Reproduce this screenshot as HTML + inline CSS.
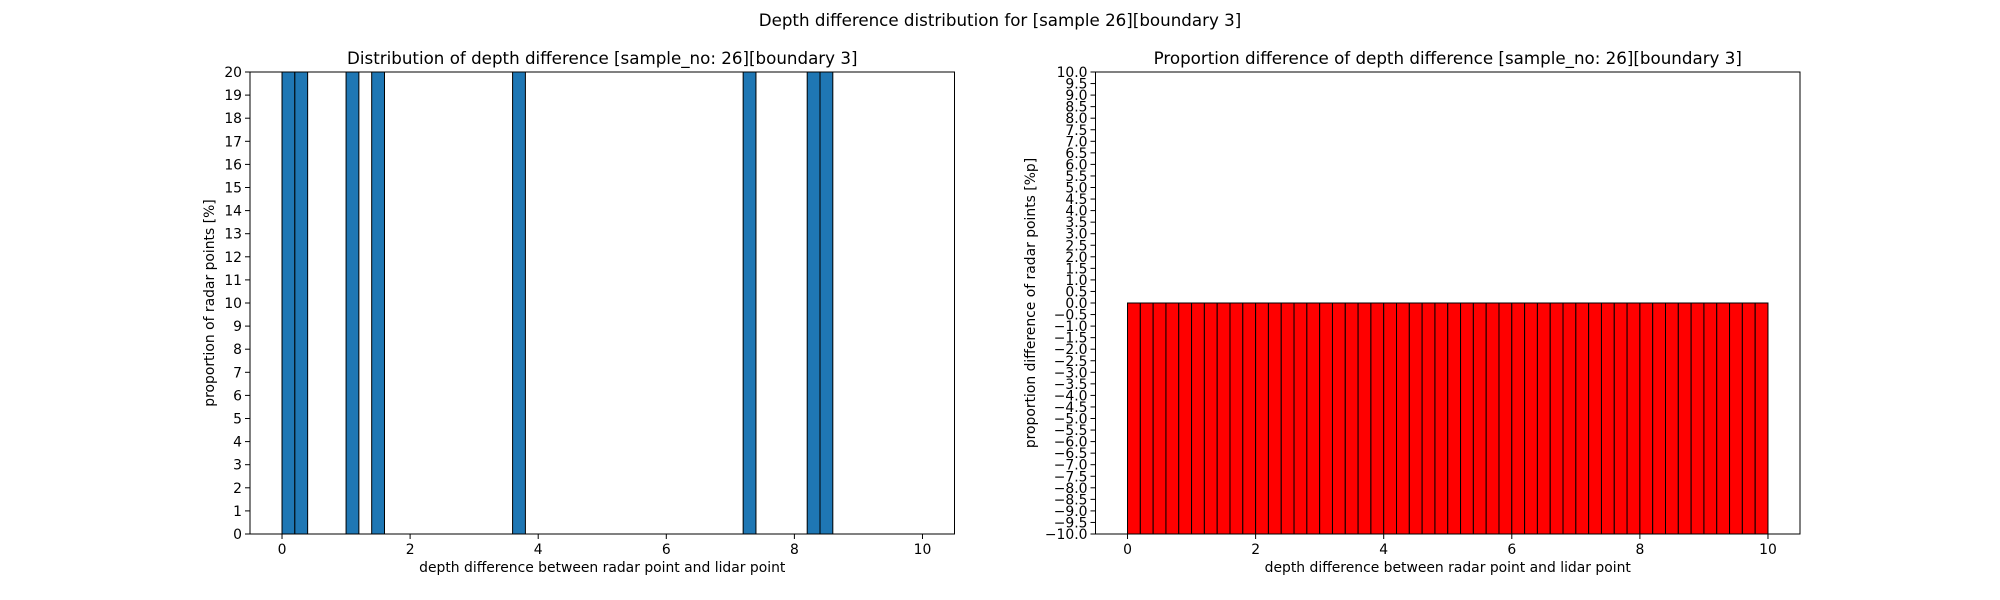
<!DOCTYPE html>
<html><head><meta charset="utf-8"><style>
html,body{margin:0;padding:0;background:#fff;}
svg{display:block;font-family:"DejaVu Sans","Liberation Sans",sans-serif;}
</style></head><body>
<svg id="fig" width="2000" height="600" xmlns="http://www.w3.org/2000/svg">
<text x="1000" y="26" font-size="16.7" text-anchor="middle">Depth difference distribution for [sample 26][boundary 3]</text>
</svg>
<script>
// Left histogram: bin edges step 0.2 from 0 to 10
const binStarts = Array.from({length:50},(_,i)=>+(i*0.2).toFixed(1));
const leftCounts = [25,25,0,0,0,25,0,25,0,0,0,0,0,0,0,0,0,0,25,0,0,0,0,0,0,0,0,0,0,0,0,0,0,0,0,0,25,0,0,0,0,25,25,0,0,0,0,0,0,0];
const rightValues = Array(50).fill(-25);
const xTicks = [0,2,4,6,8,10];
const leftYTicks = Array.from({length:21},(_,i)=>i);
const rightYTicks = Array.from({length:41},(_,i)=>-10+i*0.5);

const svg=document.getElementById('fig');
const NS='http://www.w3.org/2000/svg';
function el(tag,attrs,parent){const e=document.createElementNS(NS,tag);for(const k in attrs)e.setAttribute(k,attrs[k]);(parent||svg).appendChild(e);return e;}

function panel(L,R,T,B,ymin,ymax,yTicks,fmt,vals,color,title,ylabel,prefix){
  const g=el('g',{});
  
  
  const xs=v=>L+(v+0.5)/11*(R-L);
  const ys=v=>B-(Math.max(ymin,Math.min(ymax,v))-ymin)/(ymax-ymin)*(B-T);
  const clip=el('clipPath',{id:prefix+'clip'},g);
  el('rect',{x:L,y:T,width:R-L,height:B-T},clip);
  const bars=el('g',{'clip-path':'url(#'+prefix+'clip)'},g);
  vals.forEach((v,i)=>{
    const x0=xs(binStarts[i]),x1=xs(binStarts[i]+0.2);
    const y0=ys(0),y1=ys(v);
    const r=el('rect',{x:x0,y:Math.min(y0,y1),width:x1-x0,height:Math.max(Math.abs(y1-y0),0.01),fill:color,stroke:v===0?'#bbb':'#000','stroke-width':1},bars);
    
    
  });
  const frame=el('rect',{x:L,y:T,width:R-L,height:B-T,fill:'none',stroke:'#000','stroke-width':1},g);
  
  
  xTicks.forEach(t=>{
    const x=xs(t);
    el('line',{x1:x,x2:x,y1:B,y2:B+5,stroke:'#000'},g);
    const tx=el('text',{x:x,y:B+20,'font-size':13.9,'text-anchor':'middle'},g);
    tx.textContent=t;
    
    
  });
  yTicks.forEach(t=>{
    const y=ys(t);
    el('line',{x1:L-5,x2:L,y1:y,y2:y,stroke:'#000'},g);
    const tx=el('text',{x:L-8,y:y+5,'font-size':13.9,'text-anchor':'end'},g);
    tx.textContent=fmt(t);
    
    
  });
  const tt=el('text',{x:(L+R)/2,y:T-8,'font-size':16.7,'text-anchor':'middle'},g);
  tt.textContent=title;
  
  
  const xl=el('text',{x:(L+R)/2,y:B+38,'font-size':13.9,'text-anchor':'middle'},g);
  xl.textContent='depth difference between radar point and lidar point';
  
  
  return {g,ys};
}
const T=72,B=534;
panel(250,954.5,T,B,0,20,leftYTicks,t=>String(t),leftCounts,'#1f77b4','Distribution of depth difference [sample_no: 26][boundary 3]','','left');
panel(1095.5,1800,T,B,-10,10,rightYTicks,t=>(t<0?'\u2212':'')+Math.abs(t).toFixed(1),rightValues,'#ff0000','Proportion difference of depth difference [sample_no: 26][boundary 3]','','right');
const yl1=el('text',{x:0,y:0,'font-size':13.9,'text-anchor':'middle',transform:'translate(214,303) rotate(-90)'});
yl1.textContent='proportion of radar points [%]';


const yl2=el('text',{x:0,y:0,'font-size':13.9,'text-anchor':'middle',transform:'translate(1035,303) rotate(-90)'});
yl2.textContent='proportion difference of radar points [%p]';


</script>
</body></html>
